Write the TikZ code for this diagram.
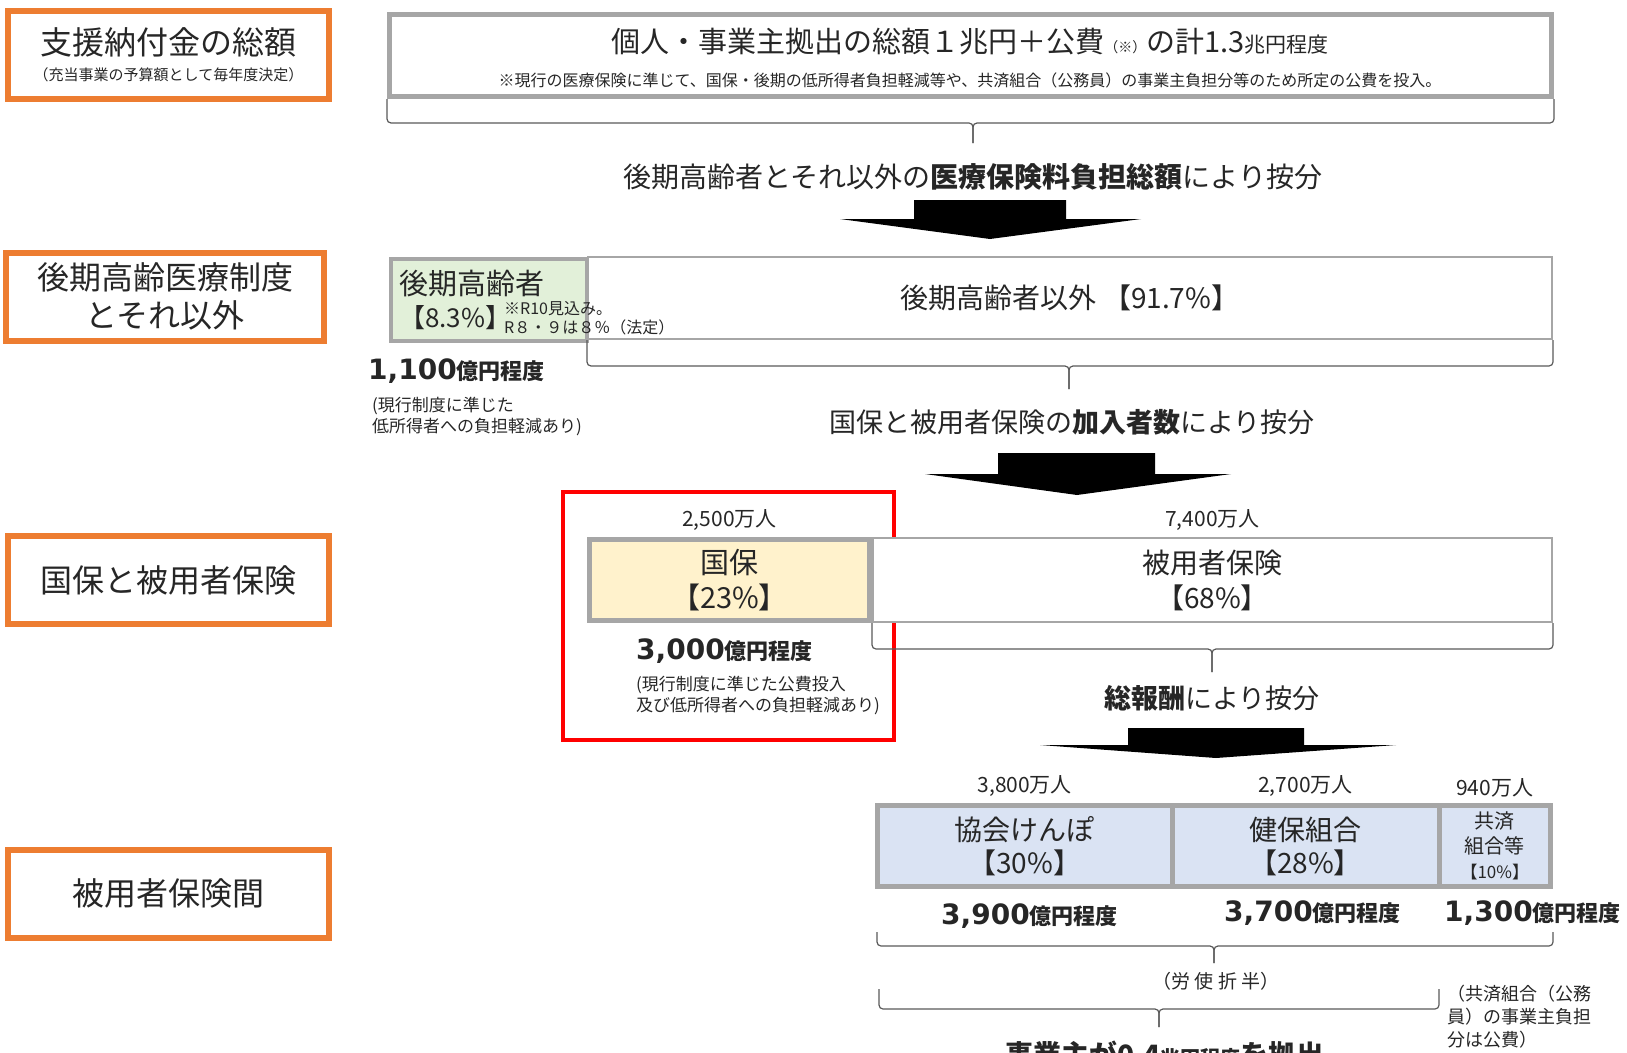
\documentclass[tikz,border=0pt]{standalone}
\usepackage{fontspec}
\setmainfont{Noto Sans CJK JP}
\newfontfamily\numfont{DejaVu Sans}
\usetikzlibrary{positioning}

\definecolor{frameorange}{HTML}{ED7D31}
\definecolor{boxgray}{HTML}{A6A6A6}
\definecolor{bracegray}{HTML}{595959}
\definecolor{koukigreen}{HTML}{E2F0D9}
\definecolor{kokuhoyellow}{HTML}{FFF2CC}
\definecolor{kenpoblue}{HTML}{DAE3F3}
\definecolor{inkblack}{HTML}{262626}

% amount label: big digits + small unit
\newcommand{\okuen}[1]{{\numfont\bfseries\fontsize{28}{32}\selectfont #1}{\bfseries\fontsize{22}{26}\selectfont 億円程度}}

\begin{document}
\begin{tikzpicture}[
          x=1pt, y=-1pt,
          node distance=4pt,
          every node/.append style={text=inkblack},
          catbox/.style={rectangle, draw=frameorange, line width=6pt, minimum width=321pt, minimum height=88pt, align=center, font=\fontsize{32}{38}\selectfont},
          sumbox/.style={rectangle, draw=boxgray, line width=5pt, fill=white},
          thinbox/.style={rectangle, draw=boxgray, line width=2pt, fill=white, align=center, font=\fontsize{28}{35}\selectfont},
          share/.style={rectangle, draw=boxgray, line width=5pt, align=center, inner sep=0pt, font=\fontsize{28}{34}\selectfont},
          head/.style={font=\fontsize{28}{32}\selectfont},
          count/.style={inner sep=2pt, font=\fontsize{21}{24}\selectfont},
          note/.style={align=left, inner sep=0pt, font=\fontsize{17}{21}\selectfont},
          brc/.style={draw=bracegray, line width=1.2pt, rounded corners=4pt},
          blk/.style={fill=black}
        ]
          \useasboundingbox (0,0) rectangle (1627,1052);

          % left column
          \node[catbox] (total lbl) at (168.5,55) {支援納付金の総額\\[-12pt]{\fontsize{15}{18}\selectfont （充当事業の予算額として毎年度決定）}};
          \node[catbox, minimum width=318pt] (kouki lbl) at (165,296.5) {後期高齢医療制度\\とそれ以外};
          \node[catbox] (kokuho lbl) at (168.5,580) {国保と被用者保険};
          \node[catbox] (hiho lbl) at (168.5,893.5) {被用者保険間};

          % total
          \node[sumbox, minimum width=1162pt, minimum height=82pt] (total) at (970.5,55.5) {};
          \node[head, font=\fontsize{29}{32}\selectfont] (total txt) at (970,41.5) {個人・事業主拠出の総額１兆円＋公費{\fontsize{14}{16}\selectfont （※）}の計1.3{\fontsize{21}{22}\selectfont 兆円程度}};
          \node[font=\fontsize{16}{18}\selectfont] (total note) at (970,80) {※現行の医療保険に準じて、国保・後期の低所得者負担軽減等や、共済組合（公務員）の事業主負担分等のため所定の公費を投入。};

          \draw[brc] (total.south west) |- (973,123) -- (973,143);
          \draw[brc] (total.south east) |- (973,123) -- (973,143);
          \node[head] (h1) at (973,177) {後期高齢者とそれ以外の\textbf{医療保険料負担総額}により按分};
          \fill[blk] (914,200) -- (1066,200) -- (1066,219) -- (1141,219) -- (990,239) -- (840,219) -- (914,219) -- cycle;

          % kouki / others
          \node[thinbox, minimum width=964pt, minimum height=82pt] (igai) at (1070,298) {後期高齢者以外\ 【91.7\%】};
          \node[share, line width=4pt, fill=koukigreen, minimum height=82pt, text width=180pt, inner sep=8pt, align=left, font=\fontsize{29}{33}\selectfont] (kouki) at (489,300) {後期高齢者\\{\fontsize{26}{30}\selectfont 【8.3\%】}};
          \node[note, font=\fontsize{16}{19}\selectfont, anchor=west] (kouki note) at (504,318) {※R10見込み。\\R８・９は８％（法定）};
          \node[anchor=west, inner sep=0pt] (kouki yen) at (368,371) {\okuen{1,100}};
          \node[note, anchor=north west] (kouki yen note) at (372,396.5) {(現行制度に準じた\\低所得者への負担軽減あり)};

          \draw[brc] (igai.south west) |- (1069,366) -- (1069,389);
          \draw[brc] (igai.south east) |- (1069,366) -- (1069,389);
          \node[head, font=\fontsize{27}{32}\selectfont] (h2) at (1072,422) {国保と被用者保険の\textbf{加入者数}により按分};
          \fill[blk] (998,453) -- (1155,453) -- (1155,474) -- (1231,474) -- (1077,495) -- (925,474) -- (998,474) -- cycle;

          % kokuho / hiho
          \draw[red, line width=4pt] (563,492) rectangle (894,740);
          \node[thinbox, minimum width=679pt, minimum height=84pt] (hiho) at (1212.5,580) {被用者保険\\【68\%】};
          \node[share, fill=kokuhoyellow, minimum width=280pt, minimum height=81pt, font=\fontsize{29}{35}\selectfont] (kokuho) at (729.5,580) {国保\\【23\%】};
          \node[count, above=4pt of kokuho] (kokuho count) {2,500万人};
          \node[count, above=4pt of hiho] (hiho count) {7,400万人};
          \node[anchor=west, inner sep=0pt] (kokuho yen) at (636,651) {\okuen{3,000}};
          \node[note, anchor=north west] (kokuho yen note) at (636,675.5) {(現行制度に準じた公費投入\\及び低所得者への負担軽減あり)};

          \draw[brc] (hiho.south west) |- (1212,649) -- (1212,672);
          \draw[brc] (hiho.south east) |- (1212,649) -- (1212,672);
          \node[head, font=\fontsize{27}{32}\selectfont] (h3) at (1212,698) {\textbf{総報酬}により按分};
          \fill[blk] (1128,728) -- (1304,728) -- (1304,745) -- (1396,745) -- (1216,758) -- (1040,745) -- (1128,745) -- cycle;

          % employee insurers
          \node[share, fill=kenpoblue, minimum width=294.5pt, minimum height=81pt, font=\fontsize{28}{33}\selectfont] (kyokai) at (1024.75,846) {協会けんぽ\\【30\%】};
          \node[share, fill=kenpoblue, minimum width=267pt, minimum height=81pt, font=\fontsize{28}{33}\selectfont] (kenpo) at (1305.5,846) {健保組合\\【28\%】};
          \node[share, fill=kenpoblue, minimum width=111.5pt, minimum height=81pt, font=\fontsize{20}{25}\selectfont] (kyosai) at (1494.75,846) {共済\\組合等\\{\fontsize{17}{20}\selectfont 【10\%】}};
          \node[count, above=4pt of kyokai] (kyokai count) {3,800万人};
          \node[count, above=4pt of kenpo] (kenpo count) {2,700万人};
          \node[count, above=4pt of kyosai] (kyosai count) {940万人};
          \node[anchor=west, inner sep=0pt] (kyokai yen) at (941,916) {\okuen{3,900}};
          \node[anchor=west, inner sep=0pt] (kenpo yen) at (1224,913) {\okuen{3,700}};
          \node[anchor=west, inner sep=0pt] (kyosai yen) at (1444,913) {\okuen{1,300}};

          \draw[brc] (877,932) |- (1214,946) -- (1214,963);
          \draw[brc] (1553,932) |- (1214,946) -- (1214,963);
          \node[font=\fontsize{19}{22}\selectfont] (roshi) at (1216,981) {（労\ 使\ 折\ 半）};
          \draw[brc] (879,989) |- (1159,1009) -- (1159,1027);
          \draw[brc] (1439,989) |- (1159,1009) -- (1159,1027);
          \node[note, font=\fontsize{18}{23}\selectfont, anchor=north west] (kyosai note) at (1447,985) {（共済組合（公務\\員）の事業主負担\\分は公費）};
          \node[font=\fontsize{28}{32}\selectfont\bfseries] (jigyonushi) at (1165,1055) {事業主が0.4{\fontsize{20}{24}\selectfont 兆円程度}を拠出};
        \end{tikzpicture}
\end{document}
